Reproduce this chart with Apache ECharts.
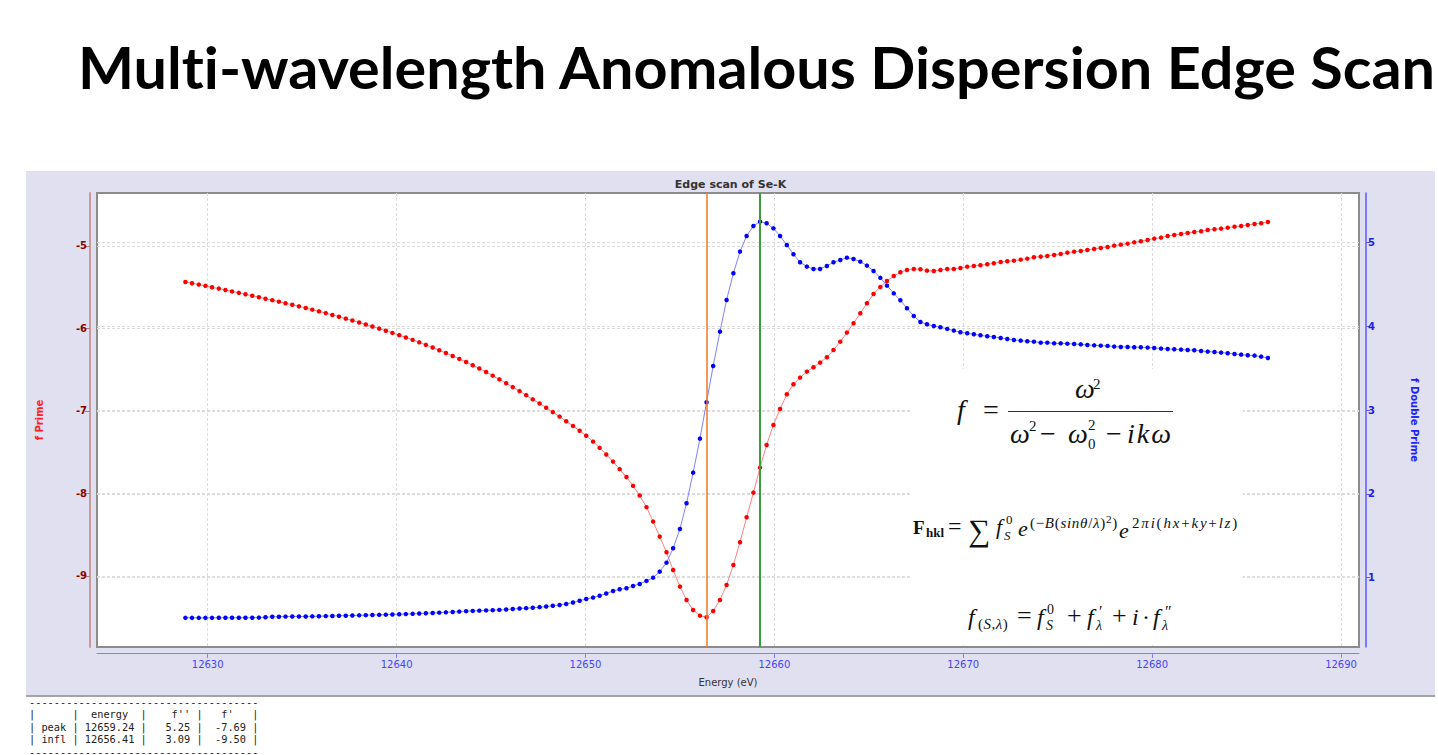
<!DOCTYPE html>
<html><head><meta charset="utf-8">
<script src="https://cdn.jsdelivr.net/npm/echarts@6/dist/echarts.min.js"></script>
<style>
html,body{margin:0;padding:0;background:#fff;width:1438px;height:755px;overflow:hidden;}
body{position:relative;font-family:"DejaVu Sans",sans-serif;}
#bigtitle{position:absolute;left:78px;top:38px;font-family:"Lato","Open Sans",sans-serif;font-weight:700;font-size:58px;line-height:1;white-space:nowrap;transform-origin:0 0;color:#000;font-variant-ligatures:none;}
#panel{position:absolute;left:26px;top:171px;width:1409px;height:524px;background:#e0e0f0;border-bottom:2px solid #a4a4a4;}
#chart{position:absolute;left:0;top:0;width:1409px;height:524px;}
#fbox{position:absolute;left:912px;top:369px;width:331px;height:276px;background:#fff;}
#fbar{position:absolute;left:1008px;top:411px;width:165px;height:1px;background:#333;}
.mp{position:absolute;font-family:"Liberation Serif","DejaVu Serif",serif;color:#111;white-space:nowrap;line-height:1;}
#table{position:absolute;left:29px;top:696px;font-family:"DejaVu Sans Mono",monospace;font-size:10.3px;line-height:12.4px;white-space:pre;color:#222;}
</style></head>
<body>
<div id="bigtitle">Multi-wavelength Anomalous Dispersion Edge Scan</div>
<div id="panel"><div id="chart"></div></div>
<div id="fbox"></div>
<div id="fbar"></div>
<div id="table"></div>
<script>
// ---- data ----
const energy = [
12628.82,12629.17,12629.53,12629.88,12630.23,12630.59,12630.94,12631.29,
12631.65,12632.00,12632.36,12632.71,12633.06,12633.42,12633.77,12634.12,
12634.48,12634.83,12635.19,12635.54,12635.89,12636.25,12636.60,12636.95,
12637.31,12637.66,12638.02,12638.37,12638.72,12639.08,12639.43,12639.78,
12640.14,12640.49,12640.85,12641.20,12641.55,12641.91,12642.26,12642.61,
12642.97,12643.32,12643.68,12644.03,12644.38,12644.74,12645.09,12645.44,
12645.80,12646.15,12646.51,12646.86,12647.21,12647.57,12647.92,12648.27,
12648.63,12648.98,12649.34,12649.69,12650.04,12650.40,12650.75,12651.10,
12651.46,12651.81,12652.17,12652.52,12652.87,12653.23,12653.58,12653.93,
12654.29,12654.64,12655.00,12655.35,12655.70,12656.06,12656.41,12656.76,
12657.12,12657.47,12657.83,12658.18,12658.53,12658.89,12659.24,12659.59,
12659.95,12660.30,12660.66,12661.01,12661.36,12661.72,12662.07,12662.42,
12662.78,12663.13,12663.49,12663.84,12664.19,12664.55,12664.90,12665.25,
12665.61,12665.96,12666.32,12666.67,12667.02,12667.38,12667.73,12668.08,
12668.44,12668.79,12669.15,12669.50,12669.85,12670.21,12670.56,12670.91,
12671.27,12671.62,12671.98,12672.33,12672.68,12673.04,12673.39,12673.74,
12674.10,12674.45,12674.81,12675.16,12675.51,12675.87,12676.22,12676.57,
12676.93,12677.28,12677.64,12677.99,12678.34,12678.70,12679.05,12679.40,
12679.76,12680.11,12680.47,12680.82,12681.17,12681.53,12681.88,12682.23,
12682.59,12682.94,12683.30,12683.65,12684.00,12684.36,12684.71,12685.06,
12685.42,12685.77,12686.13];
const fPrime = [
-5.436,-5.452,-5.468,-5.484,-5.501,-5.517,-5.534,-5.551,-5.568,-5.586,
-5.603,-5.621,-5.639,-5.657,-5.675,-5.694,-5.713,-5.732,-5.752,-5.772,
-5.793,-5.814,-5.836,-5.858,-5.881,-5.904,-5.928,-5.952,-5.977,-6.002,
-6.028,-6.054,-6.081,-6.109,-6.138,-6.168,-6.199,-6.231,-6.264,-6.298,
-6.333,-6.369,-6.406,-6.445,-6.486,-6.528,-6.572,-6.617,-6.664,-6.711,
-6.759,-6.808,-6.859,-6.909,-6.961,-7.014,-7.068,-7.124,-7.181,-7.240,
-7.301,-7.371,-7.447,-7.527,-7.614,-7.705,-7.800,-7.908,-8.024,-8.166,
-8.341,-8.523,-8.713,-8.927,-9.129,-9.291,-9.412,-9.481,-9.501,-9.424,
-9.291,-9.109,-8.867,-8.592,-8.289,-7.990,-7.687,-7.412,-7.170,-6.976,
-6.798,-6.677,-6.596,-6.523,-6.471,-6.414,-6.349,-6.261,-6.160,-6.050,
-5.937,-5.816,-5.695,-5.582,-5.497,-5.424,-5.364,-5.319,-5.291,-5.279,
-5.283,-5.299,-5.303,-5.291,-5.279,-5.279,-5.267,-5.251,-5.242,-5.234,
-5.222,-5.210,-5.194,-5.186,-5.178,-5.166,-5.154,-5.137,-5.129,-5.121,
-5.109,-5.097,-5.081,-5.069,-5.061,-5.049,-5.036,-5.024,-5.012,-4.996,
-4.984,-4.972,-4.956,-4.943,-4.927,-4.911,-4.899,-4.879,-4.867,-4.855,
-4.842,-4.830,-4.822,-4.806,-4.798,-4.790,-4.778,-4.766,-4.758,-4.745,
-4.733,-4.725,-4.709];
const fDoublePrime = [
0.520,0.520,0.520,0.520,0.520,0.521,0.521,0.521,0.522,0.522,
0.522,0.523,0.527,0.533,0.534,0.535,0.536,0.537,0.537,0.538,
0.540,0.541,0.543,0.545,0.546,0.548,0.550,0.552,0.554,0.556,
0.558,0.560,0.563,0.565,0.568,0.572,0.575,0.578,0.582,0.586,
0.590,0.595,0.600,0.603,0.606,0.609,0.612,0.615,0.619,0.625,
0.632,0.636,0.640,0.648,0.656,0.664,0.674,0.686,0.704,0.724,
0.745,0.762,0.784,0.810,0.841,0.861,0.873,0.901,0.925,0.961,
1.000,1.072,1.179,1.351,1.581,1.888,2.254,2.660,3.094,3.528,
3.938,4.316,4.634,4.893,5.080,5.199,5.251,5.231,5.171,5.080,
4.972,4.861,4.766,4.714,4.686,4.686,4.722,4.766,4.793,4.821,
4.805,4.773,4.726,4.662,4.580,4.487,4.395,4.312,4.216,4.125,
4.053,4.025,4.005,3.990,3.970,3.950,3.930,3.918,3.906,3.894,
3.882,3.874,3.862,3.850,3.838,3.830,3.822,3.818,3.806,3.806,
3.798,3.798,3.794,3.790,3.786,3.778,3.774,3.770,3.767,3.759,
3.755,3.755,3.751,3.751,3.747,3.743,3.735,3.731,3.727,3.723,
3.719,3.715,3.707,3.699,3.695,3.687,3.679,3.671,3.663,3.655,
3.651,3.639,3.623];
const xTicks = [12630,12640,12650,12660,12670,12680,12690];
const leftTicks = [-9,-8,-7,-6,-5];
const rightTicks = [1,2,3,4,5];
const peakEnergy = 12659.24;
const inflEnergy = 12656.41;
const tableHeader = ['', 'energy', "f''", "f'"];
const tableRows = [
  ['peak', '12659.24', '5.25', '-7.69'],
  ['infl', '12656.41', '3.09', '-9.50']
];

// ---- table text ----
(function(){
  const dash = '-'.repeat(37);
  const hdr = '|      |  ' + tableHeader[1] + '  |    ' + tableHeader[2] + ' |   ' + tableHeader[3] + '   |';
  const rows = tableRows.map(r => '| ' + r[0] + ' | ' + r[1] + ' | ' + r[2].padStart(6) + ' | ' + r[3].padStart(6) + ' |');
  document.getElementById('table').textContent = [dash, hdr].concat(rows, [dash]).join('\n');
})();

// ---- fit big title width ----
(function(){
  const t = document.getElementById('bigtitle');
  const w = t.getBoundingClientRect().width;
  t.style.transform = 'scaleX(' + (1357 / w) + ')';
})();

// ---- formulas (real text pieces placed on a baseline) ----
function P(html, x, base, size, extra){
  const s = document.createElement('span');
  s.className = 'mp';
  s.innerHTML = html;
  s.style.left = x + 'px';
  s.style.top = (base - 0.8375 * size) + 'px';
  s.style.fontSize = size + 'px';
  if (extra) s.style.cssText += extra;
  document.body.appendChild(s);
}
// f = ω² / (ω² − ω₀² − ikω)
P('<i>f</i>', 957, 419, 28);
P('=', 983, 419, 28);
P('<i>ω</i>', 1075, 398, 28);
P('2', 1093, 390, 15);
P('<i>ω</i>', 1010, 443, 28);
P('2', 1029, 432, 15);
P('−', 1040, 443, 28);
P('<i>ω</i>', 1068, 443, 28);
P('2', 1088, 431, 15);
P('0', 1088, 450, 15);
P('−', 1106, 443, 28);
P('<i>ikω</i>', 1127, 443, 28, 'letter-spacing:2px;');
// F_hkl = Σ f_S^0 e^(...) e^(...)
P('<b>F</b>', 913, 534, 19);
P('<b>hkl</b>', 926, 537, 13);
P('=', 948, 534, 24);
P('∑', 968, 541, 31);
P('<i>f</i>', 996, 534, 22);
P('0', 1006, 524, 13);
P('<i>S</i>', 1004, 540, 13);
P('<i>e</i>', 1018, 536, 22);
P('(−<i>B</i>(<i>sinθ</i>/<i>λ</i>)<span style="font-size:0.75em;vertical-align:0.45em;">2</span>)', 1030, 527, 15, 'letter-spacing:0.7px;');
P('<i>e</i>', 1119, 538, 22);
P('2<i>πi</i>(<i>hx</i>+<i>ky</i>+<i>lz</i>)', 1132, 529, 15, 'letter-spacing:1.8px;');
// f_(S,λ) = f_S^0 + f'_λ + i · f''_λ
P('<i>f</i>', 968, 625, 24);
P('(<i>S</i>,<i>λ</i>)', 978, 630, 15, 'letter-spacing:0.5px;');
P('=', 1017, 625, 26);
P('<i>f</i>', 1037, 625, 24);
P('0', 1047, 615, 14);
P('<i>S</i>', 1046, 631, 14);
P('+', 1067, 625, 26);
P('<i>f</i>', 1087, 625, 24);
P('′', 1099, 617, 16);
P('<i>λ</i>', 1096, 631, 14);
P('+', 1112, 625, 26);
P('<i>i</i>', 1132, 625, 24);
P('·', 1142, 625, 24);
P('<i>f</i>', 1153, 625, 24);
P('″', 1165, 617, 16);
P('<i>λ</i>', 1162, 631, 14);

const chart = echarts.init(document.getElementById('chart'), null, {renderer:'svg'});
const splitStyle = {show:true, lineStyle:{color:'#dcdcdc', width:1, type:[3,2]}};
chart.setOption({
  animation:false,
  title:{text:'Edge scan of Se-K', left:'center', top:3,
    textStyle:{fontSize:11, fontWeight:'bold', color:'#333', fontFamily:'DejaVu Sans'}},
  grid:{left:67, top:22, right:76, bottom:48, show:true, backgroundColor:'#fff', borderColor:'#8c8c8c', borderWidth:2},
  xAxis:{type:'value', min:12624.14, max:12690.95, splitNumber:7, offset:6,
    axisLine:{show:true, onZero:false, lineStyle:{color:'#8080ff', width:1}},
    axisTick:{show:true, length:5, customValues:xTicks, lineStyle:{color:'#8080ff'}},
    axisLabel:{customValues:xTicks, color:'#4444ff', fontSize:10, margin:6, fontFamily:'DejaVu Sans',
      formatter: v => String(v)},
    splitLine:splitStyle,
    name:'Energy (eV)', nameLocation:'middle', nameGap:24,
    nameTextStyle:{color:'#333', fontSize:10, fontFamily:'DejaVu Sans'}},
  yAxis:[
    {type:'value', position:'left', min:-9.861, max:-4.358, offset:7,
     axisLine:{show:true, onZero:false, lineStyle:{color:'#c89a9a', width:2}},
     axisTick:{show:true, length:5, customValues:leftTicks, lineStyle:{color:'#b08080'}},
     axisLabel:{customValues:leftTicks, color:'#8b0000', fontWeight:'bold', fontSize:10, margin:3, fontFamily:'DejaVu Sans',
       formatter: v => String(v)},
     splitLine:splitStyle,
     name:'f Prime', nameLocation:'middle', nameGap:46,
     nameTextStyle:{color:'#ff2020', fontWeight:'bold', fontSize:10, fontFamily:'DejaVu Sans'}},
    {type:'value', position:'right', min:0.172, max:5.593, offset:7,
     axisLine:{show:true, onZero:false, lineStyle:{color:'#5a5aff', width:1.5}},
     axisTick:{show:true, length:4, customValues:rightTicks, lineStyle:{color:'#5a5aff'}},
     axisLabel:{customValues:rightTicks, color:'#2020e0', fontWeight:'bold', fontSize:10, margin:2, fontFamily:'DejaVu Sans',
       formatter: v => String(v)},
     splitLine:splitStyle,
     name:'f Double Prime', nameLocation:'middle', nameGap:43, nameRotate:-90,
     nameTextStyle:{color:'#2020ff', fontWeight:'bold', fontSize:10, fontFamily:'DejaVu Sans'}}
  ],
  series:[
    {type:'line', name:"f'", yAxisIndex:0, data:energy.map((e,i)=>[e,fPrime[i]]),
     symbol:'circle', symbolSize:4.5, showAllSymbol:true,
     lineStyle:{color:'#ff8080', width:1}, itemStyle:{color:'#ff0000', borderWidth:0}, z:3},
    {type:'line', name:"f''", yAxisIndex:1, data:energy.map((e,i)=>[e,fDoublePrime[i]]),
     symbol:'circle', symbolSize:4.5, showAllSymbol:true,
     lineStyle:{color:'#8080ff', width:1}, itemStyle:{color:'#0000ff', borderWidth:0}, z:3},
    {type:'line', yAxisIndex:0, data:[], z:5,
     markLine:{silent:true, symbol:'none', label:{show:false}, animation:false,
       data:[
         {xAxis:inflEnergy, lineStyle:{color:'#f07820', width:1.5, type:'solid'}},
         {xAxis:peakEnergy, lineStyle:{color:'#3c9c3c', width:2, type:'solid'}}
       ]}}
  ]
});
</script>
</body></html>
